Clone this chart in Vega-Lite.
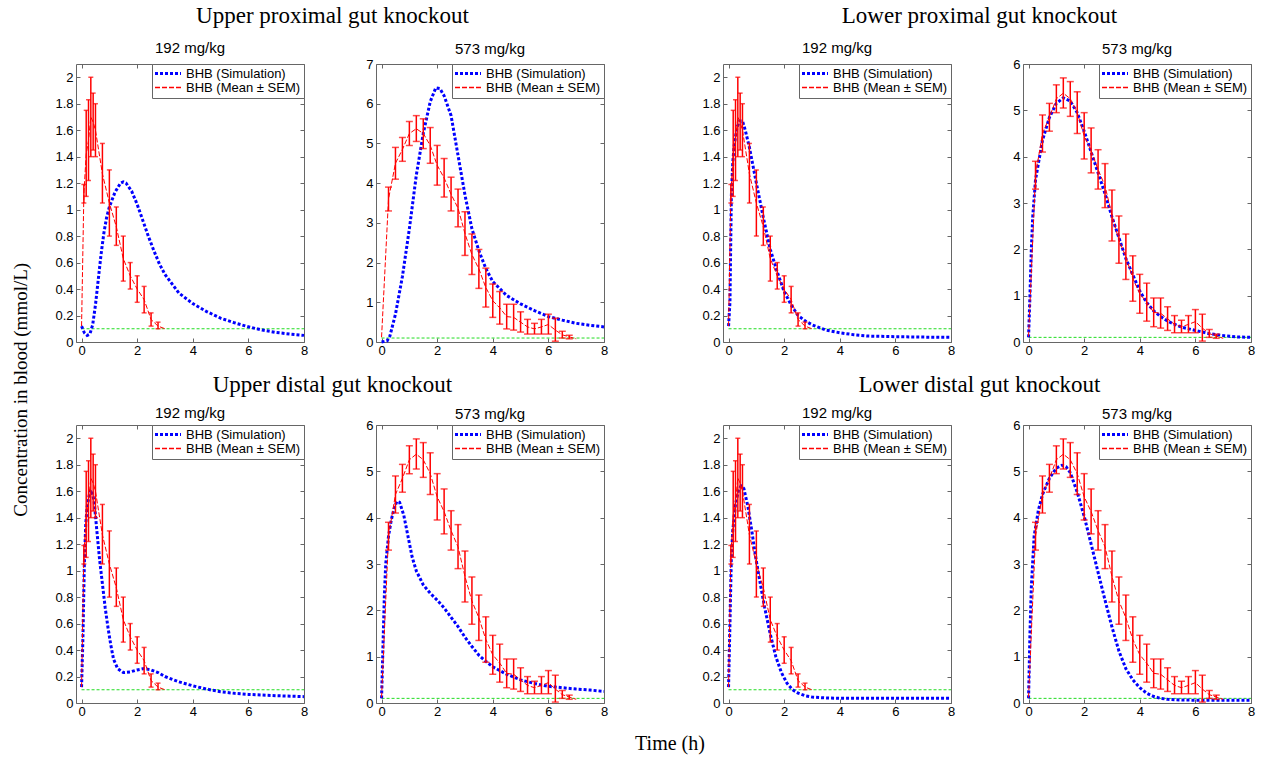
{
"$schema": "https://vega.github.io/schema/vega-lite/v6.json",
"padding": {"left": 12, "top": 5, "right": 5, "bottom": 3},
"background": "white",
"datasets": {
"thr": [{"t":0,"y":0.1},{"t":8,"y":0.1}],
"o192": [
{"t":0,"y":0.12,"lo":null,"hi":null},
{"t":0.083,"y":1.12,"lo":1.05,"hi":1.19},
{"t":0.167,"y":1.42,"lo":1.1,"hi":1.75},
{"t":0.25,"y":1.52,"lo":1.22,"hi":1.83},
{"t":0.333,"y":1.7,"lo":1.4,"hi":2.0},
{"t":0.417,"y":1.66,"lo":1.45,"hi":1.88},
{"t":0.5,"y":1.6,"lo":1.4,"hi":1.8},
{"t":0.75,"y":1.27,"lo":1.05,"hi":1.5},
{"t":1.0,"y":1.05,"lo":0.8,"hi":1.3},
{"t":1.25,"y":0.87,"lo":0.73,"hi":1.02},
{"t":1.5,"y":0.63,"lo":0.46,"hi":0.8},
{"t":1.75,"y":0.5,"lo":0.4,"hi":0.6},
{"t":2.0,"y":0.4,"lo":0.3,"hi":0.5},
{"t":2.25,"y":0.32,"lo":0.22,"hi":0.42},
{"t":2.5,"y":0.17,"lo":0.12,"hi":0.22},
{"t":2.75,"y":0.12,"lo":0.1,"hi":0.15},
{"t":3.0,"y":0.1,"lo":null,"hi":null}
],
"o573": [
{"t":0,"y":0.12,"lo":null,"hi":null},
{"t":0.25,"y":3.6,"lo":3.3,"hi":3.9},
{"t":0.5,"y":4.5,"lo":4.1,"hi":4.9},
{"t":0.75,"y":4.85,"lo":4.55,"hi":5.15},
{"t":1.0,"y":5.25,"lo":4.95,"hi":5.55},
{"t":1.25,"y":5.37,"lo":5.05,"hi":5.7},
{"t":1.5,"y":5.25,"lo":4.87,"hi":5.62},
{"t":1.75,"y":4.95,"lo":4.5,"hi":5.4},
{"t":2.0,"y":4.45,"lo":3.95,"hi":4.95},
{"t":2.25,"y":4.13,"lo":3.65,"hi":4.62},
{"t":2.5,"y":3.72,"lo":3.3,"hi":4.15},
{"t":2.75,"y":3.37,"lo":2.9,"hi":3.85},
{"t":3.0,"y":2.73,"lo":2.18,"hi":3.28},
{"t":3.25,"y":2.2,"lo":1.7,"hi":2.72},
{"t":3.5,"y":1.84,"lo":1.35,"hi":2.33},
{"t":3.75,"y":1.37,"lo":0.88,"hi":1.86},
{"t":4.0,"y":1.04,"lo":0.62,"hi":1.46},
{"t":4.25,"y":0.86,"lo":0.45,"hi":1.27},
{"t":4.5,"y":0.64,"lo":0.33,"hi":0.95},
{"t":4.75,"y":0.62,"lo":0.3,"hi":0.95},
{"t":5.0,"y":0.5,"lo":0.25,"hi":0.76},
{"t":5.25,"y":0.38,"lo":0.2,"hi":0.57},
{"t":5.5,"y":0.33,"lo":0.2,"hi":0.47},
{"t":5.75,"y":0.38,"lo":0.2,"hi":0.57},
{"t":6.0,"y":0.44,"lo":0.2,"hi":0.7},
{"t":6.25,"y":0.3,"lo":0.02,"hi":0.6},
{"t":6.5,"y":0.18,"lo":0.1,"hi":0.27},
{"t":6.75,"y":0.13,"lo":0.08,"hi":0.17},
{"t":7.0,"y":0.08,"lo":null,"hi":null}
],
"sim": [
{"p":1,"t":0,"y":0.12},{"p":1,"t":0.1,"y":0.07},{"p":1,"t":0.2,"y":0.05},{"p":1,"t":0.3,"y":0.06},{"p":1,"t":0.4,"y":0.13},{"p":1,"t":0.5,"y":0.28},{"p":1,"t":0.6,"y":0.47},{"p":1,"t":0.7,"y":0.66},{"p":1,"t":0.8,"y":0.82},{"p":1,"t":0.9,"y":0.94},{"p":1,"t":1.0,"y":1.02},{"p":1,"t":1.2,"y":1.13},{"p":1,"t":1.4,"y":1.2},{"p":1,"t":1.5,"y":1.21},{"p":1,"t":1.6,"y":1.2},{"p":1,"t":1.8,"y":1.14},{"p":1,"t":2.0,"y":1.04},{"p":1,"t":2.2,"y":0.92},{"p":1,"t":2.4,"y":0.8},{"p":1,"t":2.6,"y":0.69},{"p":1,"t":2.8,"y":0.59},{"p":1,"t":3.0,"y":0.51},{"p":1,"t":3.5,"y":0.37},{"p":1,"t":4.0,"y":0.29},{"p":1,"t":4.5,"y":0.23},{"p":1,"t":5.0,"y":0.18},{"p":1,"t":5.5,"y":0.145},{"p":1,"t":6.0,"y":0.115},{"p":1,"t":6.5,"y":0.09},{"p":1,"t":7.0,"y":0.072},{"p":1,"t":7.5,"y":0.06},{"p":1,"t":8.0,"y":0.05},
{"p":2,"t":0,"y":0.0},{"p":2,"t":0.2,"y":0.03},{"p":2,"t":0.3,"y":0.15},{"p":2,"t":0.5,"y":0.7},{"p":2,"t":0.75,"y":1.65},{"p":2,"t":1.0,"y":2.85},{"p":2,"t":1.25,"y":4.2},{"p":2,"t":1.5,"y":5.25},{"p":2,"t":1.75,"y":6.05},{"p":2,"t":1.95,"y":6.4},{"p":2,"t":2.1,"y":6.38},{"p":2,"t":2.25,"y":6.2},{"p":2,"t":2.5,"y":5.7},{"p":2,"t":2.75,"y":4.7},{"p":2,"t":3.0,"y":3.7},{"p":2,"t":3.25,"y":2.85},{"p":2,"t":3.5,"y":2.3},{"p":2,"t":3.75,"y":1.85},{"p":2,"t":4.0,"y":1.52},{"p":2,"t":4.5,"y":1.17},{"p":2,"t":5.0,"y":0.96},{"p":2,"t":5.5,"y":0.79},{"p":2,"t":6.0,"y":0.64},{"p":2,"t":6.5,"y":0.55},{"p":2,"t":7.0,"y":0.47},{"p":2,"t":7.5,"y":0.42},{"p":2,"t":8.0,"y":0.38},
{"p":3,"t":0,"y":0.12},{"p":3,"t":0.05,"y":0.3},{"p":3,"t":0.1,"y":1.1},{"p":3,"t":0.15,"y":1.35},{"p":3,"t":0.2,"y":1.48},{"p":3,"t":0.3,"y":1.62},{"p":3,"t":0.4,"y":1.67},{"p":3,"t":0.5,"y":1.67},{"p":3,"t":0.6,"y":1.6},{"p":3,"t":0.75,"y":1.47},{"p":3,"t":1.0,"y":1.2},{"p":3,"t":1.25,"y":0.94},{"p":3,"t":1.5,"y":0.7},{"p":3,"t":1.75,"y":0.53},{"p":3,"t":2.0,"y":0.38},{"p":3,"t":2.25,"y":0.28},{"p":3,"t":2.5,"y":0.2},{"p":3,"t":2.75,"y":0.16},{"p":3,"t":3.0,"y":0.13},{"p":3,"t":3.5,"y":0.09},{"p":3,"t":4.0,"y":0.07},{"p":3,"t":4.5,"y":0.055},{"p":3,"t":5.0,"y":0.045},{"p":3,"t":6.0,"y":0.04},{"p":3,"t":7.0,"y":0.037},{"p":3,"t":8.0,"y":0.035},
{"p":4,"t":0,"y":0.1},{"p":4,"t":0.05,"y":1.0},{"p":4,"t":0.1,"y":2.0},{"p":4,"t":0.15,"y":2.7},{"p":4,"t":0.25,"y":3.5},{"p":4,"t":0.5,"y":4.35},{"p":4,"t":0.75,"y":4.85},{"p":4,"t":1.0,"y":5.15},{"p":4,"t":1.25,"y":5.27},{"p":4,"t":1.5,"y":5.2},{"p":4,"t":1.75,"y":4.95},{"p":4,"t":2.0,"y":4.55},{"p":4,"t":2.25,"y":4.1},{"p":4,"t":2.5,"y":3.65},{"p":4,"t":2.75,"y":3.2},{"p":4,"t":3.0,"y":2.7},{"p":4,"t":3.25,"y":2.25},{"p":4,"t":3.5,"y":1.8},{"p":4,"t":3.75,"y":1.45},{"p":4,"t":4.0,"y":1.1},{"p":4,"t":4.25,"y":0.85},{"p":4,"t":4.5,"y":0.67},{"p":4,"t":4.75,"y":0.55},{"p":4,"t":5.0,"y":0.45},{"p":4,"t":5.5,"y":0.32},{"p":4,"t":6.0,"y":0.25},{"p":4,"t":6.5,"y":0.18},{"p":4,"t":7.0,"y":0.14},{"p":4,"t":7.5,"y":0.11},{"p":4,"t":8.0,"y":0.1},
{"p":5,"t":0,"y":0.12},{"p":5,"t":0.05,"y":0.5},{"p":5,"t":0.1,"y":1.05},{"p":5,"t":0.15,"y":1.35},{"p":5,"t":0.2,"y":1.48},{"p":5,"t":0.3,"y":1.6},{"p":5,"t":0.35,"y":1.61},{"p":5,"t":0.45,"y":1.53},{"p":5,"t":0.55,"y":1.3},{"p":5,"t":0.65,"y":1.08},{"p":5,"t":0.75,"y":0.9},{"p":5,"t":0.85,"y":0.72},{"p":5,"t":0.95,"y":0.57},{"p":5,"t":1.05,"y":0.44},{"p":5,"t":1.15,"y":0.33},{"p":5,"t":1.3,"y":0.26},{"p":5,"t":1.5,"y":0.23},{"p":5,"t":1.75,"y":0.235},{"p":5,"t":2.0,"y":0.25},{"p":5,"t":2.25,"y":0.26},{"p":5,"t":2.5,"y":0.25},{"p":5,"t":2.75,"y":0.23},{"p":5,"t":3.0,"y":0.2},{"p":5,"t":3.5,"y":0.16},{"p":5,"t":4.0,"y":0.13},{"p":5,"t":4.5,"y":0.105},{"p":5,"t":5.0,"y":0.085},{"p":5,"t":5.5,"y":0.073},{"p":5,"t":6.0,"y":0.065},{"p":5,"t":7.0,"y":0.055},{"p":5,"t":8.0,"y":0.048},
{"p":6,"t":0,"y":0.1},{"p":6,"t":0.05,"y":1.2},{"p":6,"t":0.1,"y":2.3},{"p":6,"t":0.15,"y":3.0},{"p":6,"t":0.25,"y":3.6},{"p":6,"t":0.35,"y":3.95},{"p":6,"t":0.45,"y":4.2},{"p":6,"t":0.55,"y":4.35},{"p":6,"t":0.65,"y":4.33},{"p":6,"t":0.8,"y":4.05},{"p":6,"t":0.95,"y":3.6},{"p":6,"t":1.1,"y":3.15},{"p":6,"t":1.25,"y":2.85},{"p":6,"t":1.5,"y":2.55},{"p":6,"t":1.75,"y":2.37},{"p":6,"t":2.0,"y":2.22},{"p":6,"t":2.25,"y":2.05},{"p":6,"t":2.5,"y":1.85},{"p":6,"t":2.75,"y":1.65},{"p":6,"t":3.0,"y":1.42},{"p":6,"t":3.25,"y":1.22},{"p":6,"t":3.5,"y":1.03},{"p":6,"t":3.75,"y":0.9},{"p":6,"t":4.0,"y":0.78},{"p":6,"t":4.5,"y":0.62},{"p":6,"t":5.0,"y":0.5},{"p":6,"t":5.5,"y":0.42},{"p":6,"t":6.0,"y":0.36},{"p":6,"t":6.5,"y":0.33},{"p":6,"t":7.0,"y":0.3},{"p":6,"t":7.5,"y":0.28},{"p":6,"t":8.0,"y":0.25},
{"p":7,"t":0,"y":0.12},{"p":7,"t":0.05,"y":0.6},{"p":7,"t":0.1,"y":1.1},{"p":7,"t":0.15,"y":1.3},{"p":7,"t":0.25,"y":1.5},{"p":7,"t":0.35,"y":1.6},{"p":7,"t":0.45,"y":1.64},{"p":7,"t":0.55,"y":1.62},{"p":7,"t":0.7,"y":1.48},{"p":7,"t":0.85,"y":1.28},{"p":7,"t":1.0,"y":1.07},{"p":7,"t":1.15,"y":0.89},{"p":7,"t":1.3,"y":0.72},{"p":7,"t":1.5,"y":0.52},{"p":7,"t":1.7,"y":0.35},{"p":7,"t":1.9,"y":0.23},{"p":7,"t":2.1,"y":0.15},{"p":7,"t":2.3,"y":0.1},{"p":7,"t":2.5,"y":0.075},{"p":7,"t":2.75,"y":0.055},{"p":7,"t":3.0,"y":0.045},{"p":7,"t":3.5,"y":0.038},{"p":7,"t":4.0,"y":0.035},{"p":7,"t":8.0,"y":0.035},
{"p":8,"t":0,"y":0.1},{"p":8,"t":0.05,"y":1.5},{"p":8,"t":0.1,"y":2.5},{"p":8,"t":0.2,"y":3.6},{"p":8,"t":0.35,"y":4.15},{"p":8,"t":0.5,"y":4.5},{"p":8,"t":0.75,"y":4.85},{"p":8,"t":1.0,"y":5.07},{"p":8,"t":1.2,"y":5.13},{"p":8,"t":1.35,"y":5.1},{"p":8,"t":1.5,"y":4.97},{"p":8,"t":1.75,"y":4.55},{"p":8,"t":2.0,"y":4.03},{"p":8,"t":2.25,"y":3.43},{"p":8,"t":2.5,"y":2.82},{"p":8,"t":2.75,"y":2.22},{"p":8,"t":3.0,"y":1.64},{"p":8,"t":3.25,"y":1.12},{"p":8,"t":3.5,"y":0.74},{"p":8,"t":3.75,"y":0.5},{"p":8,"t":4.0,"y":0.33},{"p":8,"t":4.25,"y":0.21},{"p":8,"t":4.5,"y":0.14},{"p":8,"t":4.75,"y":0.1},{"p":8,"t":5.0,"y":0.08},{"p":8,"t":5.5,"y":0.065},{"p":8,"t":6.0,"y":0.06},{"p":8,"t":7.0,"y":0.06},{"p":8,"t":8.0,"y":0.06}
]
},
"title": {"text": "Time (h)", "orient": "bottom", "anchor": "middle", "font": "Liberation Serif", "fontSize": 20, "fontWeight": "normal", "offset": 15, "dx": 35},
"resolve": {"scale": {"color": "independent", "strokeDash": "independent"}, "legend": {"color": "independent", "strokeDash": "independent"}},
"vconcat": [
{
"title": {"text": "Concentration in blood (mmol/L)", "orient": "left", "anchor": "middle", "font": "Liberation Serif", "fontSize": 19, "fontWeight": "normal", "offset": 23, "dx": -28},
"resolve": {"scale": {"color": "independent", "strokeDash": "independent"}, "legend": {"color": "independent", "strokeDash": "independent"}},
"spacing": 16,
"vconcat": [
{"spacing": 90,
"resolve": {"scale": {"color": "independent", "strokeDash": "independent"}, "legend": {"color": "independent", "strokeDash": "independent"}},
"hconcat": [
{"title": {"text": "Upper proximal gut knockout", "font": "Liberation Serif", "fontSize": 23, "fontWeight": "normal", "anchor": "middle", "offset": 12},
"spacing": 72, "bounds": "flush",
"resolve": {"scale": {"color": "independent", "strokeDash": "independent"}, "legend": {"color": "independent", "strokeDash": "independent"}},
"hconcat": [
{"title": {"text": "192 mg/kg", "offset": 8}, "width": 228, "height": 278, "layer": [
{"data": {"name": "thr"}, "mark": {"type": "line", "color": "#22dd22", "strokeWidth": 1, "strokeDash": [3, 2]},
"encoding": {"x": {"field": "t", "type": "quantitative", "scale": {"domain": [-0.2, 8], "nice": false, "zero": false}, "axis": {"orient": "top", "values": [0, 2, 4, 6, 8], "labels": false, "title": null}},
"y": {"field": "y", "type": "quantitative", "scale": {"domain": [0, 2.1], "nice": false}, "axis": {"orient": "right", "values": [0, 0.2, 0.4, 0.6, 0.8, 1, 1.2, 1.4, 1.6, 1.8, 2], "labels": false, "title": null}}}},
{"data": {"name": "sim"}, "transform": [{"filter": "datum.p == 1"}], "mark": {"type": "line", "strokeWidth": 3},
"encoding": {"x": {"field": "t", "type": "quantitative", "scale": {"domain": [-0.2, 8], "nice": false, "zero": false}, "axis": {"orient": "bottom", "values": [0, 2, 4, 6, 8], "title": null}},
"y": {"field": "y", "type": "quantitative", "scale": {"domain": [0, 2.1], "nice": false}, "axis": {"orient": "left", "values": [0, 0.2, 0.4, 0.6, 0.8, 1, 1.2, 1.4, 1.6, 1.8, 2], "format": "~g", "title": null}},
"color": {"datum": "BHB (Simulation)", "scale": {"domain": ["BHB (Simulation)", "BHB (Mean ± SEM)"], "range": ["#0000ff", "#ff0000"]}, "legend": {"title": null, "encode": {"symbols": {"update": {"strokeWidth": {"signal": "datum.value === 'BHB (Simulation)' ? 3 : 1.5"}}}}}},
"strokeDash": {"datum": "BHB (Simulation)", "scale": {"domain": ["BHB (Simulation)", "BHB (Mean ± SEM)"], "range": [[3, 2], [5, 2]]}, "legend": {"title": null}}}},
{"data": {"name": "o192"}, "mark": {"type": "line", "strokeWidth": 1},
"encoding": {"x": {"field": "t", "type": "quantitative", "axis": null}, "y": {"field": "y", "type": "quantitative", "axis": null},
"color": {"datum": "BHB (Mean ± SEM)"}, "strokeDash": {"datum": "BHB (Mean ± SEM)"}}},
{"data": {"name": "o192"}, "transform": [{"filter": "datum.hi != null"}], "mark": {"type": "errorbar", "color": "#ff0000", "thickness": 1.5, "ticks": {"size": 5}},
"encoding": {"x": {"field": "t", "type": "quantitative", "axis": null}, "y": {"field": "lo", "type": "quantitative", "axis": null}, "y2": {"field": "hi"}}}
]},
{"title": {"text": "573 mg/kg", "offset": 1.5}, "width": 228, "height": 278, "layer": [
{"data": {"name": "thr"}, "mark": {"type": "line", "color": "#22dd22", "strokeWidth": 1, "strokeDash": [3, 2]},
"encoding": {"x": {"field": "t", "type": "quantitative", "scale": {"domain": [-0.2, 8], "nice": false, "zero": false}, "axis": {"orient": "top", "values": [0, 2, 4, 6, 8], "labels": false, "title": null}},
"y": {"field": "y", "type": "quantitative", "scale": {"domain": [0, 7], "nice": false}, "axis": {"orient": "right", "values": [0, 1, 2, 3, 4, 5, 6, 7], "labels": false, "title": null}}}},
{"data": {"name": "sim"}, "transform": [{"filter": "datum.p == 2"}], "mark": {"type": "line", "strokeWidth": 3},
"encoding": {"x": {"field": "t", "type": "quantitative", "scale": {"domain": [-0.2, 8], "nice": false, "zero": false}, "axis": {"orient": "bottom", "values": [0, 2, 4, 6, 8], "title": null}},
"y": {"field": "y", "type": "quantitative", "scale": {"domain": [0, 7], "nice": false}, "axis": {"orient": "left", "values": [0, 1, 2, 3, 4, 5, 6, 7], "format": "~g", "title": null}},
"color": {"datum": "BHB (Simulation)", "scale": {"domain": ["BHB (Simulation)", "BHB (Mean ± SEM)"], "range": ["#0000ff", "#ff0000"]}, "legend": {"title": null, "encode": {"symbols": {"update": {"strokeWidth": {"signal": "datum.value === 'BHB (Simulation)' ? 3 : 1.5"}}}}}},
"strokeDash": {"datum": "BHB (Simulation)", "scale": {"domain": ["BHB (Simulation)", "BHB (Mean ± SEM)"], "range": [[3, 2], [5, 2]]}, "legend": {"title": null}}}},
{"data": {"name": "o573"}, "mark": {"type": "line", "strokeWidth": 1},
"encoding": {"x": {"field": "t", "type": "quantitative", "axis": null}, "y": {"field": "y", "type": "quantitative", "axis": null},
"color": {"datum": "BHB (Mean ± SEM)"}, "strokeDash": {"datum": "BHB (Mean ± SEM)"}}},
{"data": {"name": "o573"}, "transform": [{"filter": "datum.hi != null"}], "mark": {"type": "errorbar", "color": "#ff0000", "thickness": 1.5, "ticks": {"size": 7}},
"encoding": {"x": {"field": "t", "type": "quantitative", "axis": null}, "y": {"field": "lo", "type": "quantitative", "axis": null}, "y2": {"field": "hi"}}}
]}
]},
{"title": {"text": "Lower proximal gut knockout", "font": "Liberation Serif", "fontSize": 23, "fontWeight": "normal", "anchor": "middle", "offset": 12},
"spacing": 72, "bounds": "flush",
"resolve": {"scale": {"color": "independent", "strokeDash": "independent"}, "legend": {"color": "independent", "strokeDash": "independent"}},
"hconcat": [
{"title": {"text": "192 mg/kg", "offset": 8}, "width": 228, "height": 278, "layer": [
{"data": {"name": "thr"}, "mark": {"type": "line", "color": "#22dd22", "strokeWidth": 1, "strokeDash": [3, 2]},
"encoding": {"x": {"field": "t", "type": "quantitative", "scale": {"domain": [-0.2, 8], "nice": false, "zero": false}, "axis": {"orient": "top", "values": [0, 2, 4, 6, 8], "labels": false, "title": null}},
"y": {"field": "y", "type": "quantitative", "scale": {"domain": [0, 2.1], "nice": false}, "axis": {"orient": "right", "values": [0, 0.2, 0.4, 0.6, 0.8, 1, 1.2, 1.4, 1.6, 1.8, 2], "labels": false, "title": null}}}},
{"data": {"name": "sim"}, "transform": [{"filter": "datum.p == 3"}], "mark": {"type": "line", "strokeWidth": 3},
"encoding": {"x": {"field": "t", "type": "quantitative", "scale": {"domain": [-0.2, 8], "nice": false, "zero": false}, "axis": {"orient": "bottom", "values": [0, 2, 4, 6, 8], "title": null}},
"y": {"field": "y", "type": "quantitative", "scale": {"domain": [0, 2.1], "nice": false}, "axis": {"orient": "left", "values": [0, 0.2, 0.4, 0.6, 0.8, 1, 1.2, 1.4, 1.6, 1.8, 2], "format": "~g", "title": null}},
"color": {"datum": "BHB (Simulation)", "scale": {"domain": ["BHB (Simulation)", "BHB (Mean ± SEM)"], "range": ["#0000ff", "#ff0000"]}, "legend": {"title": null, "encode": {"symbols": {"update": {"strokeWidth": {"signal": "datum.value === 'BHB (Simulation)' ? 3 : 1.5"}}}}}},
"strokeDash": {"datum": "BHB (Simulation)", "scale": {"domain": ["BHB (Simulation)", "BHB (Mean ± SEM)"], "range": [[3, 2], [5, 2]]}, "legend": {"title": null}}}},
{"data": {"name": "o192"}, "mark": {"type": "line", "strokeWidth": 1},
"encoding": {"x": {"field": "t", "type": "quantitative", "axis": null}, "y": {"field": "y", "type": "quantitative", "axis": null},
"color": {"datum": "BHB (Mean ± SEM)"}, "strokeDash": {"datum": "BHB (Mean ± SEM)"}}},
{"data": {"name": "o192"}, "transform": [{"filter": "datum.hi != null"}], "mark": {"type": "errorbar", "color": "#ff0000", "thickness": 1.5, "ticks": {"size": 5}},
"encoding": {"x": {"field": "t", "type": "quantitative", "axis": null}, "y": {"field": "lo", "type": "quantitative", "axis": null}, "y2": {"field": "hi"}}}
]},
{"title": {"text": "573 mg/kg", "offset": 1.5}, "width": 228, "height": 278, "layer": [
{"data": {"name": "thr"}, "mark": {"type": "line", "color": "#22dd22", "strokeWidth": 1, "strokeDash": [3, 2]},
"encoding": {"x": {"field": "t", "type": "quantitative", "scale": {"domain": [-0.2, 8], "nice": false, "zero": false}, "axis": {"orient": "top", "values": [0, 2, 4, 6, 8], "labels": false, "title": null}},
"y": {"field": "y", "type": "quantitative", "scale": {"domain": [0, 6], "nice": false}, "axis": {"orient": "right", "values": [0, 1, 2, 3, 4, 5, 6], "labels": false, "title": null}}}},
{"data": {"name": "sim"}, "transform": [{"filter": "datum.p == 4"}], "mark": {"type": "line", "strokeWidth": 3},
"encoding": {"x": {"field": "t", "type": "quantitative", "scale": {"domain": [-0.2, 8], "nice": false, "zero": false}, "axis": {"orient": "bottom", "values": [0, 2, 4, 6, 8], "title": null}},
"y": {"field": "y", "type": "quantitative", "scale": {"domain": [0, 6], "nice": false}, "axis": {"orient": "left", "values": [0, 1, 2, 3, 4, 5, 6], "format": "~g", "title": null}},
"color": {"datum": "BHB (Simulation)", "scale": {"domain": ["BHB (Simulation)", "BHB (Mean ± SEM)"], "range": ["#0000ff", "#ff0000"]}, "legend": {"title": null, "encode": {"symbols": {"update": {"strokeWidth": {"signal": "datum.value === 'BHB (Simulation)' ? 3 : 1.5"}}}}}},
"strokeDash": {"datum": "BHB (Simulation)", "scale": {"domain": ["BHB (Simulation)", "BHB (Mean ± SEM)"], "range": [[3, 2], [5, 2]]}, "legend": {"title": null}}}},
{"data": {"name": "o573"}, "mark": {"type": "line", "strokeWidth": 1},
"encoding": {"x": {"field": "t", "type": "quantitative", "axis": null}, "y": {"field": "y", "type": "quantitative", "axis": null},
"color": {"datum": "BHB (Mean ± SEM)"}, "strokeDash": {"datum": "BHB (Mean ± SEM)"}}},
{"data": {"name": "o573"}, "transform": [{"filter": "datum.hi != null"}], "mark": {"type": "errorbar", "color": "#ff0000", "thickness": 1.5, "ticks": {"size": 7}},
"encoding": {"x": {"field": "t", "type": "quantitative", "axis": null}, "y": {"field": "lo", "type": "quantitative", "axis": null}, "y2": {"field": "hi"}}}
]}
]}
]},
{"spacing": 90,
"resolve": {"scale": {"color": "independent", "strokeDash": "independent"}, "legend": {"color": "independent", "strokeDash": "independent"}},
"hconcat": [
{"title": {"text": "Upper distal gut knockout", "font": "Liberation Serif", "fontSize": 23, "fontWeight": "normal", "anchor": "middle", "offset": 8},
"spacing": 72, "bounds": "flush",
"resolve": {"scale": {"color": "independent", "strokeDash": "independent"}, "legend": {"color": "independent", "strokeDash": "independent"}},
"hconcat": [
{"title": {"text": "192 mg/kg", "offset": 4}, "width": 228, "height": 278, "layer": [
{"data": {"name": "thr"}, "mark": {"type": "line", "color": "#22dd22", "strokeWidth": 1, "strokeDash": [3, 2]},
"encoding": {"x": {"field": "t", "type": "quantitative", "scale": {"domain": [-0.2, 8], "nice": false, "zero": false}, "axis": {"orient": "top", "values": [0, 2, 4, 6, 8], "labels": false, "title": null}},
"y": {"field": "y", "type": "quantitative", "scale": {"domain": [0, 2.1], "nice": false}, "axis": {"orient": "right", "values": [0, 0.2, 0.4, 0.6, 0.8, 1, 1.2, 1.4, 1.6, 1.8, 2], "labels": false, "title": null}}}},
{"data": {"name": "sim"}, "transform": [{"filter": "datum.p == 5"}], "mark": {"type": "line", "strokeWidth": 3},
"encoding": {"x": {"field": "t", "type": "quantitative", "scale": {"domain": [-0.2, 8], "nice": false, "zero": false}, "axis": {"orient": "bottom", "values": [0, 2, 4, 6, 8], "title": null}},
"y": {"field": "y", "type": "quantitative", "scale": {"domain": [0, 2.1], "nice": false}, "axis": {"orient": "left", "values": [0, 0.2, 0.4, 0.6, 0.8, 1, 1.2, 1.4, 1.6, 1.8, 2], "format": "~g", "title": null}},
"color": {"datum": "BHB (Simulation)", "scale": {"domain": ["BHB (Simulation)", "BHB (Mean ± SEM)"], "range": ["#0000ff", "#ff0000"]}, "legend": {"title": null, "encode": {"symbols": {"update": {"strokeWidth": {"signal": "datum.value === 'BHB (Simulation)' ? 3 : 1.5"}}}}}},
"strokeDash": {"datum": "BHB (Simulation)", "scale": {"domain": ["BHB (Simulation)", "BHB (Mean ± SEM)"], "range": [[3, 2], [5, 2]]}, "legend": {"title": null}}}},
{"data": {"name": "o192"}, "mark": {"type": "line", "strokeWidth": 1},
"encoding": {"x": {"field": "t", "type": "quantitative", "axis": null}, "y": {"field": "y", "type": "quantitative", "axis": null},
"color": {"datum": "BHB (Mean ± SEM)"}, "strokeDash": {"datum": "BHB (Mean ± SEM)"}}},
{"data": {"name": "o192"}, "transform": [{"filter": "datum.hi != null"}], "mark": {"type": "errorbar", "color": "#ff0000", "thickness": 1.5, "ticks": {"size": 5}},
"encoding": {"x": {"field": "t", "type": "quantitative", "axis": null}, "y": {"field": "lo", "type": "quantitative", "axis": null}, "y2": {"field": "hi"}}}
]},
{"title": {"text": "573 mg/kg", "offset": -2.5}, "width": 228, "height": 278, "layer": [
{"data": {"name": "thr"}, "mark": {"type": "line", "color": "#22dd22", "strokeWidth": 1, "strokeDash": [3, 2]},
"encoding": {"x": {"field": "t", "type": "quantitative", "scale": {"domain": [-0.2, 8], "nice": false, "zero": false}, "axis": {"orient": "top", "values": [0, 2, 4, 6, 8], "labels": false, "title": null}},
"y": {"field": "y", "type": "quantitative", "scale": {"domain": [0, 6], "nice": false}, "axis": {"orient": "right", "values": [0, 1, 2, 3, 4, 5, 6], "labels": false, "title": null}}}},
{"data": {"name": "sim"}, "transform": [{"filter": "datum.p == 6"}], "mark": {"type": "line", "strokeWidth": 3},
"encoding": {"x": {"field": "t", "type": "quantitative", "scale": {"domain": [-0.2, 8], "nice": false, "zero": false}, "axis": {"orient": "bottom", "values": [0, 2, 4, 6, 8], "title": null}},
"y": {"field": "y", "type": "quantitative", "scale": {"domain": [0, 6], "nice": false}, "axis": {"orient": "left", "values": [0, 1, 2, 3, 4, 5, 6], "format": "~g", "title": null}},
"color": {"datum": "BHB (Simulation)", "scale": {"domain": ["BHB (Simulation)", "BHB (Mean ± SEM)"], "range": ["#0000ff", "#ff0000"]}, "legend": {"title": null, "encode": {"symbols": {"update": {"strokeWidth": {"signal": "datum.value === 'BHB (Simulation)' ? 3 : 1.5"}}}}}},
"strokeDash": {"datum": "BHB (Simulation)", "scale": {"domain": ["BHB (Simulation)", "BHB (Mean ± SEM)"], "range": [[3, 2], [5, 2]]}, "legend": {"title": null}}}},
{"data": {"name": "o573"}, "mark": {"type": "line", "strokeWidth": 1},
"encoding": {"x": {"field": "t", "type": "quantitative", "axis": null}, "y": {"field": "y", "type": "quantitative", "axis": null},
"color": {"datum": "BHB (Mean ± SEM)"}, "strokeDash": {"datum": "BHB (Mean ± SEM)"}}},
{"data": {"name": "o573"}, "transform": [{"filter": "datum.hi != null"}], "mark": {"type": "errorbar", "color": "#ff0000", "thickness": 1.5, "ticks": {"size": 7}},
"encoding": {"x": {"field": "t", "type": "quantitative", "axis": null}, "y": {"field": "lo", "type": "quantitative", "axis": null}, "y2": {"field": "hi"}}}
]}
]},
{"title": {"text": "Lower distal gut knockout", "font": "Liberation Serif", "fontSize": 23, "fontWeight": "normal", "anchor": "middle", "offset": 8},
"spacing": 72, "bounds": "flush",
"resolve": {"scale": {"color": "independent", "strokeDash": "independent"}, "legend": {"color": "independent", "strokeDash": "independent"}},
"hconcat": [
{"title": {"text": "192 mg/kg", "offset": 4}, "width": 228, "height": 278, "layer": [
{"data": {"name": "thr"}, "mark": {"type": "line", "color": "#22dd22", "strokeWidth": 1, "strokeDash": [3, 2]},
"encoding": {"x": {"field": "t", "type": "quantitative", "scale": {"domain": [-0.2, 8], "nice": false, "zero": false}, "axis": {"orient": "top", "values": [0, 2, 4, 6, 8], "labels": false, "title": null}},
"y": {"field": "y", "type": "quantitative", "scale": {"domain": [0, 2.1], "nice": false}, "axis": {"orient": "right", "values": [0, 0.2, 0.4, 0.6, 0.8, 1, 1.2, 1.4, 1.6, 1.8, 2], "labels": false, "title": null}}}},
{"data": {"name": "sim"}, "transform": [{"filter": "datum.p == 7"}], "mark": {"type": "line", "strokeWidth": 3},
"encoding": {"x": {"field": "t", "type": "quantitative", "scale": {"domain": [-0.2, 8], "nice": false, "zero": false}, "axis": {"orient": "bottom", "values": [0, 2, 4, 6, 8], "title": null}},
"y": {"field": "y", "type": "quantitative", "scale": {"domain": [0, 2.1], "nice": false}, "axis": {"orient": "left", "values": [0, 0.2, 0.4, 0.6, 0.8, 1, 1.2, 1.4, 1.6, 1.8, 2], "format": "~g", "title": null}},
"color": {"datum": "BHB (Simulation)", "scale": {"domain": ["BHB (Simulation)", "BHB (Mean ± SEM)"], "range": ["#0000ff", "#ff0000"]}, "legend": {"title": null, "encode": {"symbols": {"update": {"strokeWidth": {"signal": "datum.value === 'BHB (Simulation)' ? 3 : 1.5"}}}}}},
"strokeDash": {"datum": "BHB (Simulation)", "scale": {"domain": ["BHB (Simulation)", "BHB (Mean ± SEM)"], "range": [[3, 2], [5, 2]]}, "legend": {"title": null}}}},
{"data": {"name": "o192"}, "mark": {"type": "line", "strokeWidth": 1},
"encoding": {"x": {"field": "t", "type": "quantitative", "axis": null}, "y": {"field": "y", "type": "quantitative", "axis": null},
"color": {"datum": "BHB (Mean ± SEM)"}, "strokeDash": {"datum": "BHB (Mean ± SEM)"}}},
{"data": {"name": "o192"}, "transform": [{"filter": "datum.hi != null"}], "mark": {"type": "errorbar", "color": "#ff0000", "thickness": 1.5, "ticks": {"size": 5}},
"encoding": {"x": {"field": "t", "type": "quantitative", "axis": null}, "y": {"field": "lo", "type": "quantitative", "axis": null}, "y2": {"field": "hi"}}}
]},
{"title": {"text": "573 mg/kg", "offset": -2.5}, "width": 228, "height": 278, "layer": [
{"data": {"name": "thr"}, "mark": {"type": "line", "color": "#22dd22", "strokeWidth": 1, "strokeDash": [3, 2]},
"encoding": {"x": {"field": "t", "type": "quantitative", "scale": {"domain": [-0.2, 8], "nice": false, "zero": false}, "axis": {"orient": "top", "values": [0, 2, 4, 6, 8], "labels": false, "title": null}},
"y": {"field": "y", "type": "quantitative", "scale": {"domain": [0, 6], "nice": false}, "axis": {"orient": "right", "values": [0, 1, 2, 3, 4, 5, 6], "labels": false, "title": null}}}},
{"data": {"name": "sim"}, "transform": [{"filter": "datum.p == 8"}], "mark": {"type": "line", "strokeWidth": 3},
"encoding": {"x": {"field": "t", "type": "quantitative", "scale": {"domain": [-0.2, 8], "nice": false, "zero": false}, "axis": {"orient": "bottom", "values": [0, 2, 4, 6, 8], "title": null}},
"y": {"field": "y", "type": "quantitative", "scale": {"domain": [0, 6], "nice": false}, "axis": {"orient": "left", "values": [0, 1, 2, 3, 4, 5, 6], "format": "~g", "title": null}},
"color": {"datum": "BHB (Simulation)", "scale": {"domain": ["BHB (Simulation)", "BHB (Mean ± SEM)"], "range": ["#0000ff", "#ff0000"]}, "legend": {"title": null, "encode": {"symbols": {"update": {"strokeWidth": {"signal": "datum.value === 'BHB (Simulation)' ? 3 : 1.5"}}}}}},
"strokeDash": {"datum": "BHB (Simulation)", "scale": {"domain": ["BHB (Simulation)", "BHB (Mean ± SEM)"], "range": [[3, 2], [5, 2]]}, "legend": {"title": null}}}},
{"data": {"name": "o573"}, "mark": {"type": "line", "strokeWidth": 1},
"encoding": {"x": {"field": "t", "type": "quantitative", "axis": null}, "y": {"field": "y", "type": "quantitative", "axis": null},
"color": {"datum": "BHB (Mean ± SEM)"}, "strokeDash": {"datum": "BHB (Mean ± SEM)"}}},
{"data": {"name": "o573"}, "transform": [{"filter": "datum.hi != null"}], "mark": {"type": "errorbar", "color": "#ff0000", "thickness": 1.5, "ticks": {"size": 7}},
"encoding": {"x": {"field": "t", "type": "quantitative", "axis": null}, "y": {"field": "lo", "type": "quantitative", "axis": null}, "y2": {"field": "hi"}}}
]}
]}
]}
]}
],
"config": {
"view": {"stroke": "#666", "strokeWidth": 1},
"font": "Liberation Sans",
"axis": {"grid": false, "domain": false, "tickColor": "#666", "tickSize": -4, "labelFont": "Liberation Sans", "labelFontSize": 13, "labelColor": "#000", "labelFlush": false},
"axisX": {"labelPadding": 6},
"axisY": {"labelPadding": 7},
"title": {"font": "Liberation Sans", "fontSize": 15, "fontWeight": "normal", "offset": 6, "color": "#000"},
"legend": {"orient": "top-right", "offset": 0, "padding": 3, "rowPadding": 0, "strokeColor": "#666", "fillColor": "#fff", "labelFont": "Liberation Sans", "labelFontSize": 13, "labelColor": "#000", "symbolType": "M-1,0H3", "symbolSize": 169, "labelOffset": 18, "labelLimit": 250}
}
}
